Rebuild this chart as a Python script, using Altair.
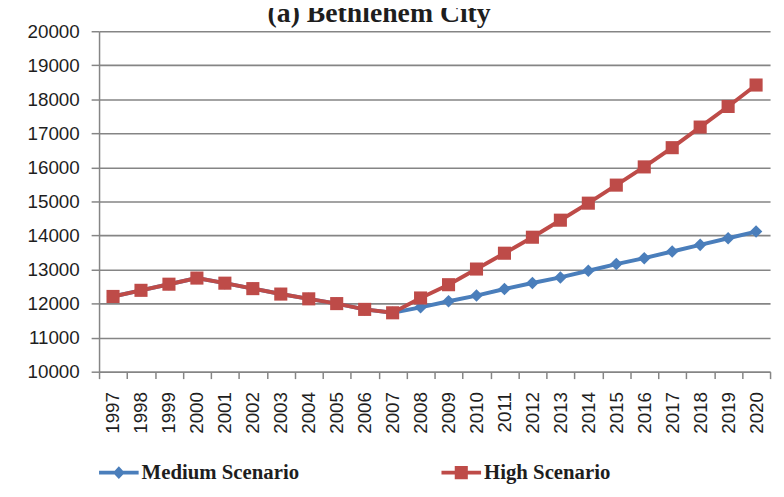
import altair as alt
import pandas as pd

title_text = "(a) Bethlehem City"
years = ["1997", "1998", "1999", "2000", "2001", "2002", "2003", "2004",
         "2005", "2006", "2007", "2008", "2009", "2010", "2011", "2012",
         "2013", "2014", "2015", "2016", "2017", "2018", "2019", "2020"]
medium = [12210, 12390, 12570, 12750, 12600, 12440, 12280, 12140,
          12000, 11830, 11730, 11890, 12070, 12235, 12430, 12605,
          12770, 12965, 13160, 13335, 13530, 13725, 13920, 14115]
high = [12210, 12390, 12570, 12750, 12600, 12440, 12280, 12140,
        12000, 11830, 11730, 12165, 12555, 13015, 13480, 13950,
        14450, 14950, 15480, 16015, 16580, 17185, 17790, 18420]
series_names = ["Medium Scenario", "High Scenario"]
y_ticks = [10000, 11000, 12000, 13000, 14000, 15000, 16000, 17000, 18000, 19000, 20000]

blue = "#4a7ebb"
red = "#be4b48"
grid = "#858585"
txt = "#1e1e1e"

rows = []
for name, vals in zip(series_names, [medium, high]):
    for yr, v in zip(years, vals):
        rows.append({"year": yr, "value": v, "series": name})
df = pd.DataFrame(rows)

# legend symbols: a short line with the marker on it
dia_path = "M-1,-0.1H1V0.1H-1Z M0,-0.32L0.3,0L0,0.32L-0.3,0Z"
sq_path = "M-1,-0.1H1V0.1H-1Z M-0.33,-0.33H0.33V0.33H-0.33Z"

legend = alt.Legend(
    title=None, orient="none", legendX=0, legendY=426, direction="horizontal",
    padding=0, columnPadding=143, labelOffset=3,
    labelFont="Liberation Serif", labelFontWeight="bold", labelFontSize=21,
    labelColor=txt, symbolSize=1600, symbolStrokeWidth=0, symbolOpacity=1,
    labelLimit=400,
)

x = alt.X("year:O", sort=years,
          scale=alt.Scale(type="band", paddingInner=0, paddingOuter=0),
          axis=alt.Axis(title=None, labelAngle=-90, tickBand="extent", tickSize=7,
                        tickColor=grid, tickWidth=1.5, domainColor=grid, domainWidth=1.5,
                        labelFont="Liberation Sans", labelFontSize=19, labelColor=txt,
                        labelPadding=13, grid=False))
y = alt.Y("value:Q", scale=alt.Scale(domain=[10000, 20000], nice=False, zero=False),
          axis=alt.Axis(title=None, values=y_ticks, format="d", grid=True,
                        gridColor=grid, gridWidth=1.6, tickSize=8, tickColor=grid,
                        tickWidth=1.5, domainColor=grid, domainWidth=1.5,
                        labelPadding=12, labelFont="Liberation Sans", labelFontSize=19,
                        labelColor=txt))
color = alt.Color("series:N", scale=alt.Scale(domain=series_names, range=[blue, red]),
                  legend=legend)
shape = alt.Shape("series:N", scale=alt.Scale(domain=series_names, range=[dia_path, sq_path]),
                  legend=legend)

base = alt.Chart(df).encode(x=x, y=y, color=color)

# legend-only layer (draws nothing)
legend_layer = base.transform_filter("false").mark_point(filled=True, opacity=1).encode(shape=shape)

layers = [legend_layer]
for name, shp, size in [(series_names[0], "diamond", 160), (series_names[1], "square", 175)]:
    sub = base.transform_filter(alt.datum.series == name)
    layers.append(sub.mark_line(strokeWidth=4))
    layers.append(sub.mark_point(shape=shp, size=size, filled=True, opacity=1))

title = alt.Chart(pd.DataFrame({"t": [title_text]})).mark_text(
    font="Liberation Serif", fontWeight="bold", fontSize=28, color=txt,
    align="center", baseline="alphabetic"
).encode(text="t:N", x=alt.value(283), y=alt.value(-9))

chart = alt.layer(*layers, title).properties(
    width=678, height=344,
    padding={"left": 92, "top": 21, "right": 6, "bottom": 111},
    autosize=alt.AutoSizeParams(type="none"),
    background="white",
).configure_view(stroke=None)

chart.save("out.html", embed_options={"renderer": "svg", "actions": False})
